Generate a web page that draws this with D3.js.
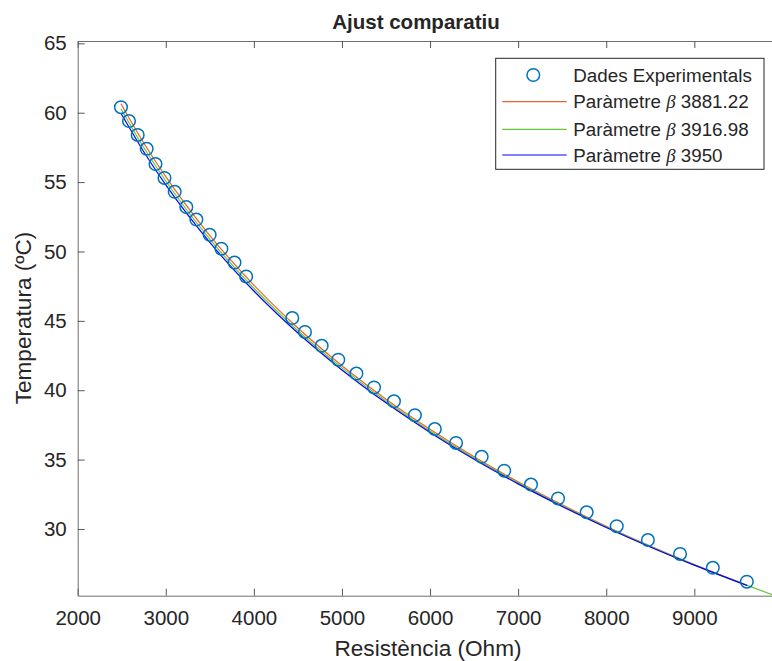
<!DOCTYPE html>
<meta charset="utf-8">
<script src="https://d3js.org/d3.v7.min.js"></script>
<style>
  body { margin: 0; background: #fff; }
  text { font-family: "Liberation Sans", Arial, Helvetica, sans-serif; fill: #262626; }
</style>
<div id="chart"></div>
<script>
// measured data (resistance in Ohm, temperature in ºC)
const resistance = [2491, 2582, 2681, 2783, 2883, 2985, 3101, 3233, 3347, 3498, 3631, 3780, 3912,
  4436, 4580, 4770, 4958, 5164, 5364, 5590, 5828, 6054, 6295, 6586, 6842, 7146, 7453, 7778, 8119,
  8473, 8838, 9210, 9596];
const temperature = [60.4, 59.4, 58.4, 57.4, 56.3, 55.3, 54.3, 53.2, 52.3, 51.2, 50.2, 49.2, 48.2,
  45.2, 44.2, 43.2, 42.2, 41.2, 40.2, 39.2, 38.2, 37.2, 36.2, 35.2, 34.2, 33.2, 32.2, 31.2, 30.2,
  29.2, 28.2, 27.2, 26.2];

// fitted curves
const fitR = [2491, 2750, 3000, 3500, 4000, 4500, 5000, 5500, 6000, 6500, 7000, 7500, 8000, 8500, 9000, 9600];
const fitOrange = [60.65, 57.82, 55.39, 51.15, 47.58, 44.48, 41.77, 39.35, 37.18, 35.20, 33.40, 31.74, 30.20, 28.77, 27.43, 25.94];
const greenR = [2491, 2750, 3000, 3500, 4000, 4500, 5000, 5500, 6000, 6500, 7000, 7500, 8000, 8500, 9000, 9600, 9900];
const fitGreen = [60.29, 57.49, 55.08, 50.89, 47.35, 44.29, 41.61, 39.21, 37.06, 35.11, 33.32, 31.67, 30.15, 28.73, 27.41, 25.93, 25.23];
const fitBlue = [59.96, 57.19, 54.80, 50.66, 47.15, 44.12, 41.46, 39.09, 36.96, 35.02, 33.25, 31.62, 30.11, 28.70, 27.39, 25.92];

const xTicks = [2000, 3000, 4000, 5000, 6000, 7000, 8000, 9000];
const yTicks = [30, 35, 40, 45, 50, 55, 60, 65];
const legendLabels = ["Dades Experimentals", "3881.22", "3916.98", "3950"];

const W = 772, H = 661;
const margin = {left: 77.7, top: 41};
const plotW = 704.7, plotH = 554.7;

const svg = d3.select("#chart").append("svg")
  .attr("width", W).attr("height", H);

const x = d3.scaleLinear().domain([2000, 10000]).range([0, plotW]);
const y = d3.scaleLinear().domain([25.19, 65.17]).range([plotH, 0]);

const g = svg.append("g").attr("transform", `translate(${margin.left},${margin.top})`);

g.append("clipPath").attr("id", "clip")
  .append("rect").attr("width", plotW).attr("height", plotH);

// axes (box on, ticks inward)
function styleAxis(sel) {
  sel.select(".domain").attr("stroke", "#6e6e6e").attr("stroke-width", 1);
  sel.selectAll(".tick line").attr("stroke", "#555").attr("stroke-width", 1);
  sel.selectAll("text").style("font-size", "20.5px").attr("fill", "#262626");
}
g.append("g").attr("transform", `translate(0,${plotH})`)
  .call(d3.axisBottom(x).tickValues(xTicks).tickFormat(d3.format("d")).tickSizeInner(-7).tickSizeOuter(0).tickPadding(15))
  .call(styleAxis);
g.append("g")
  .call(d3.axisTop(x).tickValues(xTicks).tickFormat("").tickSizeInner(-7).tickSizeOuter(0))
  .call(styleAxis);
g.append("g")
  .call(d3.axisLeft(y).tickValues(yTicks).tickSizeInner(-7).tickSizeOuter(0).tickPadding(11))
  .call(styleAxis);
g.selectAll(".domain").attr("fill", "none");

// lines
const plot = g.append("g").attr("clip-path", "url(#clip)");
const line = d3.line().x(d => x(d[0])).y(d => y(d[1])).curve(d3.curveMonotoneX);
const series = [
  {r: fitR, t: fitOrange, color: "#E8632B"},
  {r: greenR, t: fitGreen, color: "#62C732"},
  {r: fitR, t: fitBlue, color: "#0000FF"}
];
series.forEach(s => {
  plot.append("path")
    .datum(d3.zip(s.r, s.t))
    .attr("fill", "none")
    .attr("stroke", s.color)
    .attr("stroke-width", 1.2)
    .attr("d", line);
});

// experimental points
plot.selectAll("circle.pt")
  .data(d3.zip(resistance, temperature))
  .join("circle")
  .attr("class", "pt")
  .attr("cx", d => x(d[0]))
  .attr("cy", d => y(d[1]))
  .attr("r", 6.3)
  .attr("fill", "none")
  .attr("stroke", "#0072BD")
  .attr("stroke-width", 1.5);

// title and labels
svg.append("text")
  .attr("x", 416).attr("y", 28.5)
  .attr("text-anchor", "middle")
  .style("font-size", "20.5px").style("font-weight", "bold")
  .attr("fill", "#000")
  .text("Ajust comparatiu");

svg.append("text")
  .attr("x", 428).attr("y", 656)
  .attr("text-anchor", "middle")
  .style("font-size", "22.6px")
  .text("Resistència (Ohm)");

svg.append("text")
  .attr("transform", "translate(30.5,318) rotate(-90)")
  .attr("text-anchor", "middle")
  .style("font-size", "22.6px")
  .text("Temperatura (ºC)");

// legend
const leg = svg.append("g");
leg.append("rect")
  .attr("x", 495.7).attr("y", 58.3)
  .attr("width", 268.3).attr("height", 111)
  .attr("fill", "#fff").attr("stroke", "#262626").attr("stroke-width", 1);

const rowY = [75, 101.7, 129.3, 155];
legendLabels.forEach((lab, i) => {
  const yy = rowY[i];
  if (i === 0) {
    leg.append("circle").attr("cx", 533.3).attr("cy", yy).attr("r", 6.3)
      .attr("fill", "none").attr("stroke", "#0072BD").attr("stroke-width", 1.5);
  } else {
    leg.append("line").attr("x1", 502.3).attr("x2", 566.7).attr("y1", yy).attr("y2", yy)
      .attr("stroke", series[i - 1].color).attr("stroke-width", 1.2);
  }
  const t = leg.append("text").attr("x", 573.3).attr("y", yy + 6.7)
    .style("font-size", "18.8px").attr("fill", "#000");
  if (i === 0) {
    t.text(lab);
  } else {
    t.append("tspan").text("Paràmetre ");
    t.append("tspan").style("font-family", "'Liberation Serif', 'DejaVu Serif', serif")
      .style("font-style", "italic").text("β");
    t.append("tspan").text(" " + lab);
  }
});
</script>
